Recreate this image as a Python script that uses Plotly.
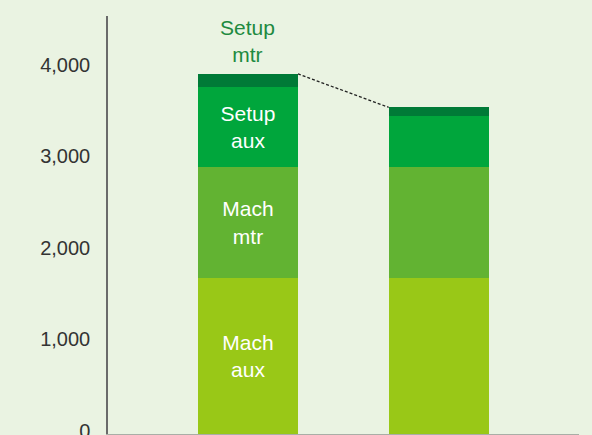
import plotly.graph_objects as go

# Stacked cost components for two scenarios
scenarios = [0, 1]
mach_aux = [1710, 1710]
mach_mtr = [1205, 1205]
setup_aux = [880, 555]
setup_mtr = [140, 100]

seg_names = ["Mach<br>aux", "Mach<br>mtr", "Setup<br>aux", "Setup<br>mtr"]
seg_values = [mach_aux, mach_mtr, setup_aux, setup_mtr]
seg_colors = ["#99C817", "#62B332", "#00A63C", "#007A37"]

y_ticks = [0, 1000, 2000, 3000, 4000]
y_tick_text = ["0", "1,000", "2,000", "3,000", "4,000"]

BAR_W = 0.524
FONT = "Liberation Sans, Arial, sans-serif"

fig = go.Figure()
for i, (name, vals, col) in enumerate(zip(seg_names, seg_values, seg_colors)):
    # only the first three segments of the first bar carry an inside label
    labels = [name, ""] if i < 3 else ["", ""]
    fig.add_trace(go.Bar(
        x=scenarios, y=vals, width=BAR_W, name=name.replace("<br>", " "),
        marker=dict(color=col, line=dict(width=0)),
        text=labels, textposition="inside", insidetextanchor="middle",
        textfont=dict(family=FONT, size=21, color="white"),
        constraintext="none", hoverinfo="skip",
    ))

totals = [sum(v[k] for v in seg_values) for k in range(len(scenarios))]

# dotted connector between the tops of the two bars
fig.add_trace(go.Scatter(
    x=[scenarios[0] + BAR_W / 2, scenarios[1] - BAR_W / 2], y=totals,
    mode="lines", line=dict(color="#222222", width=1.3, dash="3px,2px"),
    hoverinfo="skip", showlegend=False,
))

# label for the thin top segment, placed above the first bar
fig.add_annotation(
    x=scenarios[0], y=totals[0], text="Setup<br>mtr", showarrow=False,
    yanchor="bottom", yshift=6, font=dict(family=FONT, size=21, color="#1E8A40"),
)

fig.update_layout(
    width=592, height=435,
    margin=dict(l=108, r=13, t=16, b=1, autoexpand=False),
    barmode="stack", showlegend=False,
    paper_bgcolor="#EAF3E2", plot_bgcolor="#EAF3E2",
    xaxis=dict(range=[-0.734, 1.736], showticklabels=False, showgrid=False,
               zeroline=False, showline=True, linecolor="#A9AEA6", linewidth=1.5,
               automargin=False, fixedrange=True),
    yaxis=dict(range=[0, 4568], tickvals=y_ticks, ticktext=y_tick_text,
               showgrid=False, zeroline=False, showline=True,
               linecolor="#6A6A6A", linewidth=1.5, ticks="",
               ticklabelstandoff=12, ticklabelshift=-3,
               ticklabeloverflow="allow", automargin=False,
               tickfont=dict(family=FONT, size=20, color="#333333"),
               fixedrange=True),
)

fig.write_html("out.html")
